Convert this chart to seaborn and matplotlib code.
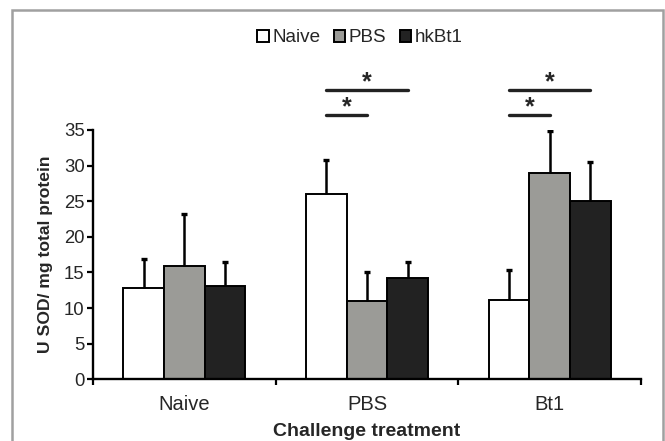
import matplotlib
matplotlib.use("Agg")
import matplotlib.pyplot as plt
import seaborn as sns
import pandas as pd
import numpy as np
from matplotlib.patches import Rectangle

# data
challenges = ["Naive", "PBS", "Bt1"]
groups = ["Naive", "PBS", "hkBt1"]
naive_vals = [12.8, 26.0, 11.1]
pbs_vals = [15.9, 11.0, 29.0]
hkbt1_vals = [13.1, 14.2, 25.0]
naive_err = [4.1, 4.8, 4.2]
pbs_err = [7.3, 4.0, 5.9]
hkbt1_err = [3.4, 2.2, 5.5]
# significance brackets: (challenge index, from group, to group, level)
sig_pairs = [(1, 0, 1, 0), (1, 0, 2, 1), (2, 0, 1, 0), (2, 0, 2, 1)]
sig_levels = [37.1, 40.6]

colors = ["#ffffff", "#9c9c96", "#222222"]

df = pd.DataFrame({
    "challenge": challenges * 3,
    "group": [g for g in groups for _ in challenges],
    "value": naive_vals + pbs_vals + hkbt1_vals,
    "err": naive_err + pbs_err + hkbt1_err,
})

sns.set_style("white")
plt.rcParams["font.family"] = ["Liberation Sans", "DejaVu Sans"]

fig = plt.figure(figsize=(6.65, 4.41), dpi=100)
ax = fig.add_axes([93 / 665, 1 - 379.3 / 441, 548 / 665, 249.3 / 441])

sns.barplot(data=df, x="challenge", y="value", hue="group", order=challenges,
            hue_order=groups, palette=colors, edgecolor="black", linewidth=1.4,
            width=0.667, gap=0, errorbar=None, ax=ax, legend=True)

# one sided error bars on top of the bars
bar_conts = list(ax.containers)[:3]
centers = {}
for gi, cont in enumerate(bar_conts):
    sub = df[df["group"] == groups[gi]]
    for ci, bar in enumerate(cont):
        cx = bar.get_x() + bar.get_width() / 2
        centers[(ci, gi)] = cx
        top = bar.get_height()
        _, caps, _ = ax.errorbar(cx, top, yerr=[[0], [sub["err"].iloc[ci]]],
                                 fmt="none", ecolor="black", elinewidth=1.8,
                                 capsize=2.5, capthick=2.4, zorder=3)
        caps[0].set_visible(False)

for ci, g0, g1, lvl in sig_pairs:
    x0, x1 = centers[(ci, g0)], centers[(ci, g1)]
    y = sig_levels[lvl]
    ax.plot([x0, x1], [y, y], color="#222222", lw=2.4, clip_on=False)
    ax.text((x0 + x1) / 2, y - 0.6, "*", ha="center", va="bottom",
            fontsize=18, fontweight="bold", clip_on=False)

ax.set_ylim(0, 35)
ax.set_xlim(-0.5, 2.5)
ax.set_yticks(np.arange(0, 36, 5))
ax.set_xticks([0, 1, 2])
ax.set_xticks([-0.5, 0.5, 1.5, 2.5], minor=True)
ax.tick_params(axis="x", which="major", length=0, labelsize=14.5, pad=11)
ax.tick_params(axis="x", which="minor", length=4, width=1.6, direction="out",
               bottom=True, color="black")
ax.tick_params(axis="y", length=4, width=1.6, direction="out", left=True,
               labelsize=13.3, color="black", pad=2)
for side in ["top", "right"]:
    ax.spines[side].set_visible(False)
for side in ["left", "bottom"]:
    ax.spines[side].set_color("black")
    ax.spines[side].set_linewidth(1.7)

ax.set_xlabel("Challenge treatment", fontsize=14, fontweight="bold", labelpad=7)
ax.set_ylabel("U SOD/ mg total protein", fontsize=12.6, fontweight="bold", labelpad=8)

handles, labels = ax.get_legend_handles_labels()
ax.legend_.remove()
fig.legend(handles, labels, loc="center", bbox_to_anchor=(360 / 665, 1 - 38 / 441),
           ncol=3, frameon=False, fontsize=13.6, handlelength=0.6, handleheight=0.6,
           handletextpad=0.2, columnspacing=0.7, borderpad=0)

fig.patches.append(Rectangle((12 / 665, -0.05), 651 / 665, 1.05 - 10 / 441,
                             transform=fig.transFigure, fill=False,
                             edgecolor="#a0a0a0", linewidth=1.8))

fig.savefig("out.png", dpi=100)
